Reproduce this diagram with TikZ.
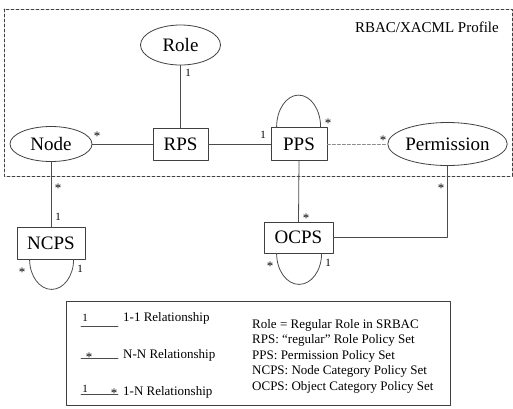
\documentclass[tikz,border=0pt]{standalone}
\usepackage{fontspec}
\setmainfont{Liberation Serif}
\usetikzlibrary{shapes.geometric}
\tikzset{
  entity/.style={draw=black!75, line width=0.8pt, ellipse, inner sep=0pt, font=\fontsize{19}{22}\selectfont},
  policyset/.style={draw=black!75, line width=0.8pt, rectangle, inner sep=0pt, font=\fontsize{19}{22}\selectfont},
  link/.style={draw=black!70, line width=0.8pt},
  weaklink/.style={draw=black!45, line width=0.8pt, dash pattern=on 3pt off 2pt},
  mult/.style={font=\fontsize{11}{12}\selectfont, inner sep=0pt},
  star/.style={font=\fontsize{13}{14}\selectfont, inner sep=0pt},
  legendtext/.style={font=\fontsize{13}{15.5}\selectfont, inner sep=0pt, anchor=west},
}
\begin{document}
\begin{tikzpicture}[x=1pt, y=-1pt, line cap=round, line join=round]
\useasboundingbox (0,0) rectangle (513,408);
% profile frame
\draw[black!75, line width=0.8pt, dash pattern=on 3pt off 2pt] (4,9) rectangle (512,176);
\node[anchor=east, inner sep=0pt, font=\fontsize{15}{18}\selectfont] (profile) at (499,27) {RBAC/XACML Profile};
% entities and policy sets
\node[entity, minimum width=80, minimum height=40] (Role) at (180.5,45) {Role};
\node[entity, minimum width=82, minimum height=35] (Node) at (51,144) {Node};
\node[entity, minimum width=119, minimum height=43] (Permission) at (447.5,144) {Permission};
\node[policyset, minimum width=55, minimum height=32] (RPS) at (180.5,144) {RPS};
\node[policyset, minimum width=56, minimum height=33] (PPS) at (299,144) {PPS};
\node[policyset, minimum width=68, minimum height=32] (NCPS) at (51,243) {NCPS};
\node[policyset, minimum width=69, minimum height=31] (OCPS) at (298.5,237.5) {OCPS};
% connectors
\draw[link] (Role) -- (RPS);
\draw[link] (Node) -- (RPS);
\draw[link] (RPS) -- (PPS);
\draw[weaklink] (PPS) -- (Permission);
\draw[link] (Node.south) -- (NCPS.north);
\draw[link] (PPS.south) -- (OCPS.north);
\draw[link] (Permission.south) |- (OCPS.east);
% self loops
\draw[link] ([xshift=6pt]PPS.north west) arc[start angle=180, end angle=0, x radius=22pt, y radius=32pt];
\draw[link] ([xshift=13pt]NCPS.south west) arc[start angle=180, end angle=360, x radius=22pt, y radius=30pt];
\draw[link] ([xshift=13pt]OCPS.south west) arc[start angle=180, end angle=360, x radius=22.5pt, y radius=31pt];
% multiplicities
\node[mult] (mRoleRPS) at (188,73) {1};
\node[star] (mNodeRPS) at (97,136) {*};
\node[mult] (mPPSRPS) at (263,135) {1};
\node[star] (mPPSloop) at (328,123) {*};
\node[star] (mPPSPerm) at (383,140) {*};
\node[star] (mNodeNCPS) at (58,188) {*};
\node[mult] (mNCPSNode) at (58,217) {1};
\node[star] (mNCPSloopa) at (22,272) {*};
\node[mult] (mNCPSloopb) at (80,269) {1};
\node[star] (mOCPSPPS) at (306,218) {*};
\node[star] (mOCPSloopa) at (270,266) {*};
\node[mult] (mOCPSloopb) at (328,263) {1};
\node[star] (mPermOCPS) at (441,188) {*};
% legend
\draw[black!75, line width=0.8pt] (66,301) rectangle (450,405);
\path (81,326) coordinate (oneA) (118,326) coordinate (oneB)
      (81,358) coordinate (nnA) (118,358) coordinate (nnB)
      (81,394) coordinate (onA) (118,394) coordinate (onB);
\draw[link] (oneA) -- (oneB);
\draw[link] (nnA) -- (nnB);
\draw[link] (onA) -- (onB);
\node[mult] (kOne) at (85,318) {1};
\node[star] (kNN) at (89,357) {*};
\node[mult] (kOnA) at (85,389) {1};
\node[star] (kOnB) at (114,393) {*};
\node[legendtext] (tOne) at (123,318) {1-1 Relationship};
\node[legendtext] (tNN) at (123,355) {N-N Relationship};
\node[legendtext] (tOn) at (123,392) {1-N Relationship};
\node[legendtext, align=left] (abbrev) at (252,356) {Role = Regular Role in SRBAC\\
  RPS: “regular” Role Policy Set\\
  PPS: Permission Policy Set\\
  NCPS: Node Category Policy Set\\
  OCPS: Object Category Policy Set};
\end{tikzpicture}
\end{document}
